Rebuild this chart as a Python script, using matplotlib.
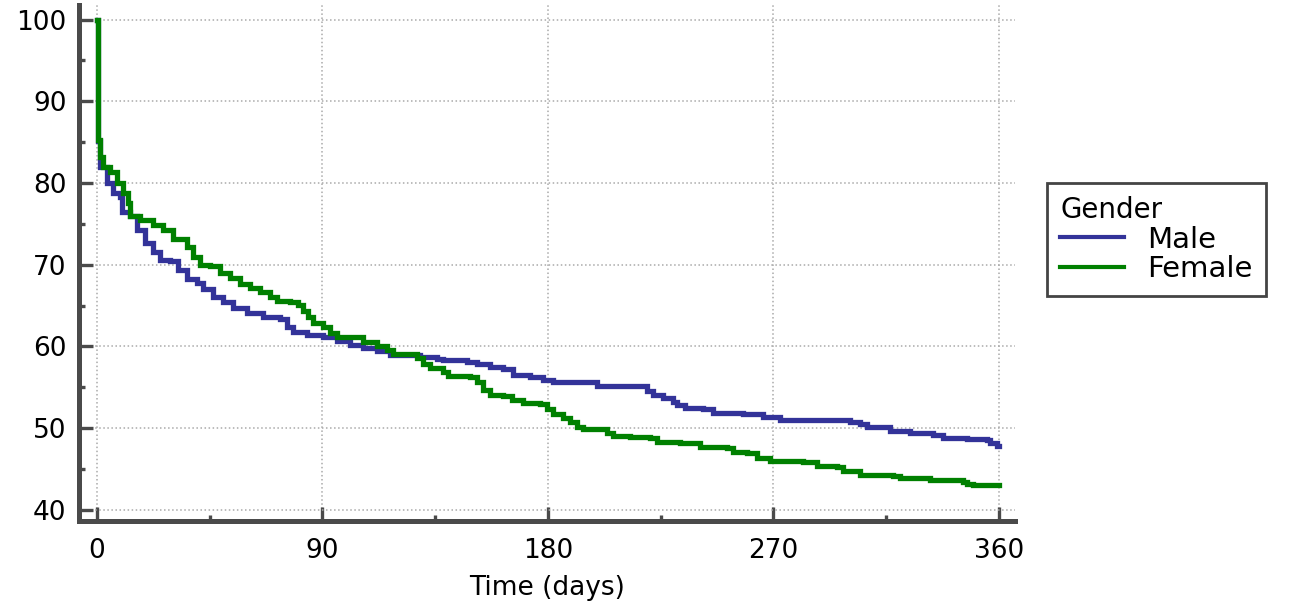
import matplotlib
matplotlib.use("Agg")
import matplotlib.pyplot as plt
from matplotlib.ticker import MultipleLocator

plt.rcParams['font.family'] = ['DejaVu Sans']

# Kaplan-Meier style step data (days, % surviving)
male_days = [0, 0.3, 1.2, 4, 6.4, 9.2, 10, 13.2, 16, 19.2,
             22.4, 25.1, 29.1, 32.3, 35.9, 39.9, 42.3, 46.3, 50.3, 54.3,
             59.9, 66.3, 73.1, 75.9, 78.3, 83.9, 90.3, 95.8, 101, 106.2,
             111.8, 117, 128.9, 135.7, 138.1, 147.7, 151.7, 156.9, 162, 166,
             172.9, 178, 182, 199.6, 219.6, 222, 226, 230, 231.5, 234.7,
             242, 246, 257.9, 265.9, 272.7, 300.6, 304.6, 307.4, 316.6, 324.6,
             333.7, 337.7, 347.3, 355.3, 356.5, 359.3, 360]
male_surv = [100, 85.1, 82.0, 80.0, 78.8, 78.3, 76.4, 75.9, 74.3, 72.7,
             71.5, 70.6, 70.4, 69.4, 68.2, 67.8, 67.0, 66.1, 65.4, 64.7,
             64.1, 63.6, 63.3, 62.4, 61.8, 61.4, 61.1, 60.7, 60.2, 59.8,
             59.4, 59.0, 58.75, 58.5, 58.3, 58.1, 57.9, 57.5, 57.2, 56.5,
             56.2, 55.9, 55.7, 55.1, 54.5, 54.1, 53.7, 53.2, 52.8, 52.5,
             52.3, 51.9, 51.7, 51.4, 51.0, 50.8, 50.55, 50.2, 49.7, 49.45,
             49.2, 48.8, 48.7, 48.5, 48.2, 47.8, 47.8]

female_days = [0, 0.4, 1.2, 2.4, 5.2, 8, 10.4, 12.4, 13.2, 17.2,
               22.4, 26.3, 30.3, 35.9, 38.5, 41.1, 45.1, 49.1, 53.1, 57.1,
               61.1, 65.1, 69.1, 71.9, 77, 80.2, 82.2, 84.2, 86.2, 90.2,
               93, 95.8, 101, 106.2, 111.8, 115.8, 118.2, 127.7, 130.1, 132.9,
               138.1, 140.1, 148.9, 151.7, 154.1, 156.9, 162, 165.7, 170, 176.8,
               179.6, 182, 186, 188.8, 191.6, 194, 203.6, 206, 212.8, 220.8,
               223.5, 232.7, 240.7, 251.5, 253.9, 259.5, 263.5, 268.7, 281.8, 287.4,
               295.4, 297.8, 303.4, 304.6, 317.8, 320.6, 332.5, 345.7, 347.3, 349.7,
               360]
female_surv = [100, 85.3, 83.2, 82.0, 81.3, 80.0, 78.8, 77.6, 75.9, 75.5,
               74.9, 74.3, 73.1, 72.2, 71.0, 70.0, 69.8, 69.0, 68.4, 67.6,
               67.2, 66.6, 66.1, 65.5, 65.4, 65.1, 64.3, 63.6, 62.9, 62.4,
               61.7, 61.2, 61.1, 60.5, 60.0, 59.6, 59.1, 58.6, 57.8, 57.4,
               56.9, 56.4, 56.2, 55.7, 54.7, 54.1, 53.9, 53.5, 53.1, 52.9,
               52.3, 51.7, 51.3, 50.8, 50.2, 49.9, 49.45, 49.1, 48.95, 48.8,
               48.3, 48.2, 47.7, 47.6, 47.1, 46.9, 46.4, 46.0, 45.8, 45.4,
               45.3, 44.8, 44.7, 44.3, 44.2, 43.9, 43.7, 43.45, 43.2, 43.0,
               43.0]

x_ticks = [0, 90, 180, 270, 360]
y_ticks = [40, 50, 60, 70, 80, 90, 100]

fig = plt.figure(figsize=(12.98, 6.05), dpi=100)
ax = fig.add_axes([0.0609, 0.139, 0.721, 0.853])

ax.plot(male_days, male_surv, drawstyle='steps-post', color='#333399',
        lw=3.8, label='Male', solid_joinstyle='miter')
ax.plot(female_days, female_surv, drawstyle='steps-post', color='#008000',
        lw=3.8, label='Female', solid_joinstyle='miter')

ax.set_xlim(-7.2, 366.5)
ax.set_ylim(38.65, 101.8)
ax.set_xticks(x_ticks)
ax.set_yticks(y_ticks)
ax.xaxis.set_minor_locator(MultipleLocator(45))
ax.yaxis.set_minor_locator(MultipleLocator(5))

ax.grid(True, which='major', color='#aaaaaa', linestyle=':', linewidth=1.1)
for side in ['top', 'right']:
    ax.spines[side].set_visible(False)
for side in ['left', 'bottom']:
    ax.spines[side].set_linewidth(3.6)
    ax.spines[side].set_color('#4a4a4a')

ax.tick_params(which='major', direction='in', length=10, width=2.4,
               color='#4a4a4a', labelsize=19)
ax.tick_params(axis='y', pad=9)
ax.tick_params(axis='x', pad=12)
ax.tick_params(which='minor', direction='in', length=4.5, width=2.4,
               color='#4a4a4a')
ax.set_xlabel('Time (days)', fontsize=19, labelpad=8)

leg = fig.legend(title='Gender', loc='upper left',
                 bbox_to_anchor=(1047 / 1298, 1 - 183 / 605), fontsize=21,
                 title_fontsize=20, handlelength=2.2, handletextpad=0.8,
                 fancybox=False, framealpha=1, edgecolor='#444444',
                 borderpad=0.45, labelspacing=0.05, borderaxespad=0)
leg._legend_box.align = 'left'
leg.get_frame().set_linewidth(2)
for line in leg.get_lines():
    line.set_linewidth(3)

fig.savefig('out.png', dpi=100)
